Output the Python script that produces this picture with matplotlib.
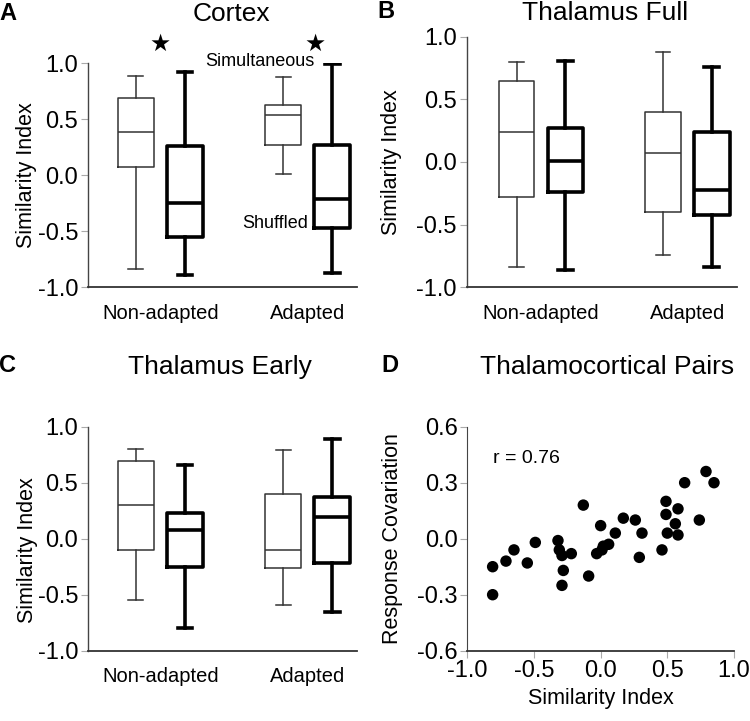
import matplotlib.pyplot as plt
import numpy as np

plt.rcParams['font.family'] = ['Liberation Sans', 'DejaVu Sans']
plt.rcParams['axes.unicode_minus'] = False

groups = ["Non-adapted", "Adapted"]

# box stats per panel: [sim NA, shuf NA, sim A, shuf A]
cortex_lo = [-0.84, -0.89, 0.01, -0.87]
cortex_q1 = [0.07, -0.55, 0.27, -0.47]
cortex_med = [0.39, -0.25, 0.54, -0.21]
cortex_q3 = [0.69, 0.26, 0.63, 0.27]
cortex_hi = [0.89, 0.92, 0.88, 0.99]

full_lo = [-0.84, -0.86, -0.74, -0.84]
full_q1 = [-0.28, -0.24, -0.40, -0.42]
full_med = [0.24, 0.01, 0.07, -0.22]
full_q3 = [0.65, 0.27, 0.40, 0.24]
full_hi = [0.80, 0.81, 0.88, 0.76]

early_lo = [-0.55, -0.80, -0.59, -0.65]
early_q1 = [-0.10, -0.25, -0.26, -0.22]
early_med = [0.30, 0.08, -0.10, 0.19]
early_q3 = [0.69, 0.23, 0.40, 0.37]
early_hi = [0.80, 0.66, 0.79, 0.89]

# thalamocortical pairs
tc_sim = [-0.81, -0.81, -0.71, -0.65, -0.55, -0.49, -0.32, -0.31, -0.29, -0.22,
          -0.28, -0.29, -0.13, -0.09, -0.03, 0.00, 0.02, 0.01, 0.06, 0.11,
          0.17, 0.26, 0.31, 0.29, 0.46, 0.49, 0.49, 0.50, 0.56, 0.58,
          0.58, 0.63, 0.74, 0.79, 0.85]
tc_cov = [-0.15, -0.30, -0.12, -0.06, -0.13, -0.02, -0.01, -0.06, -0.09, -0.08,
          -0.17, -0.25, 0.18, -0.20, -0.08, 0.07, -0.04, -0.06, -0.03, 0.03,
          0.11, 0.10, 0.03, -0.10, -0.06, 0.20, 0.13, 0.03, 0.08, 0.16,
          0.02, 0.30, 0.10, 0.36, 0.30]

positions = [1, 2, 4, 5]


def box_panel(ax, lo, q1, med, q3, hi, xlim):
    stats = [dict(whislo=lo[i], q1=q1[i], med=med[i], q3=q3[i], whishi=hi[i], fliers=[])
             for i in range(4)]
    for i in range(4):
        thick = i % 2 == 1  # shuffled boxes are drawn bold
        lw = 2.6 if thick else 1.1
        col = "black" if thick else "#333333"
        props = dict(color=col, linewidth=lw)
        ax.bxp([stats[i]], positions=[positions[i]], widths=0.73, capwidths=0.3,
               showfliers=False, boxprops=props, medianprops=props,
               whiskerprops=props, capprops=props, manage_ticks=False)
    ax.set_xlim(*xlim)
    ax.set_ylim(-1, 1)
    ax.set_yticks([-1, -0.5, 0, 0.5, 1])
    ax.set_yticklabels(["-1.0", "-0.5", "0.0", "0.5", "1.0"])
    ax.set_xticks([1.5, 4.5])
    ax.set_xticklabels(groups, fontsize=14.5)
    ax.tick_params(axis='x', length=0, pad=12)
    ax.tick_params(axis='y', length=5, color="#aaaaaa", labelsize=17, pad=2)
    for s in ["top", "right"]:
        ax.spines[s].set_visible(False)
    ax.spines["left"].set_color("#444444")
    ax.spines["bottom"].set_color("#333333")
    ax.spines["left"].set_linewidth(1.0)
    ax.spines["bottom"].set_linewidth(1.3)
    ax.set_ylabel("Similarity Index", fontsize=15.5, labelpad=2)


fig = plt.figure(figsize=(7.5, 7.21), dpi=100)
W, H = 750, 721


def px_axes(left, top, right, bottom):
    return fig.add_axes([left / W, 1 - bottom / H, (right - left) / W, (bottom - top) / H])


axA = px_axes(88, 63.3, 357, 287.3)
axB = px_axes(466.7, 36.7, 736.7, 287.3)
axC = px_axes(88, 426.7, 357, 650.7)
axD = px_axes(467.3, 426.7, 734, 650.7)

box_panel(axA, cortex_lo, cortex_q1, cortex_med, cortex_q3, cortex_hi, (0.03, 5.5))
box_panel(axB, full_lo, full_q1, full_med, full_q3, full_hi, (-0.02, 5.51))
box_panel(axC, early_lo, early_q1, early_med, early_q3, early_hi, (0.03, 5.5))

axA.yaxis.set_label_coords(-0.19, 0.5)
axB.yaxis.set_label_coords(-0.24, 0.5)
axC.yaxis.set_label_coords(-0.185, 0.45)

# annotations in panel A
axA.text(1.5, 1.17, "★", ha="center", va="center", fontsize=17, family="DejaVu Sans",
         clip_on=False)
axA.text(4.65, 1.17, "★", ha="center", va="center", fontsize=17, family="DejaVu Sans",
         clip_on=False)
axA.text(4.64, 1.02, "Simultaneous", ha="right", va="center", fontsize=13)
axA.text(4.5, -0.43, "Shuffled", ha="right", va="center", fontsize=13)

# scatter panel D
axD.scatter(tc_sim, tc_cov, s=68, color="black", edgecolors="none", clip_on=False)
axD.set_xlim(-1, 1)
axD.set_ylim(-0.6, 0.6)
axD.set_xticks([-1, -0.5, 0, 0.5, 1])
axD.set_xticklabels(["-1.0", "-0.5", "0.0", "0.5", "1.0"])
axD.set_yticks([-0.6, -0.3, 0, 0.3, 0.6])
axD.set_yticklabels(["-0.6", "-0.3", "0.0", "0.3", "0.6"])
axD.tick_params(length=5, color="#aaaaaa", labelsize=17, pad=2)
for s in ["top", "right"]:
    axD.spines[s].set_visible(False)
axD.spines["left"].set_color("#444444")
axD.spines["bottom"].set_color("#333333")
axD.spines["bottom"].set_linewidth(1.3)
axD.set_xlabel("Similarity Index", fontsize=15.5, labelpad=4)
axD.set_ylabel("Response Covariation", fontsize=15.5)
axD.yaxis.set_label_coords(-0.24, 0.5)
axD.text(-0.81, 0.43, "r = 0.76", fontsize=14, ha="left", va="center")

# titles and panel letters
fig.text(231 / W, 1 - 14 / H, "Cortex", ha="center", va="center", fontsize=19)
fig.text(605 / W, 1 - 13 / H, "Thalamus Full", ha="center", va="center", fontsize=19)
fig.text(220 / W, 1 - 367 / H, "Thalamus Early", ha="center", va="center", fontsize=19)
fig.text(607 / W, 1 - 367 / H, "Thalamocortical Pairs", ha="center", va="center", fontsize=19)

for letter, x, y in [("A", 8, 14), ("B", 386, 12), ("C", 8, 365), ("D", 390, 365)]:
    fig.text(x / W, 1 - y / H, letter, ha="center", va="center", fontsize=17,
             fontweight="bold")

fig.savefig("out.png", dpi=100)
